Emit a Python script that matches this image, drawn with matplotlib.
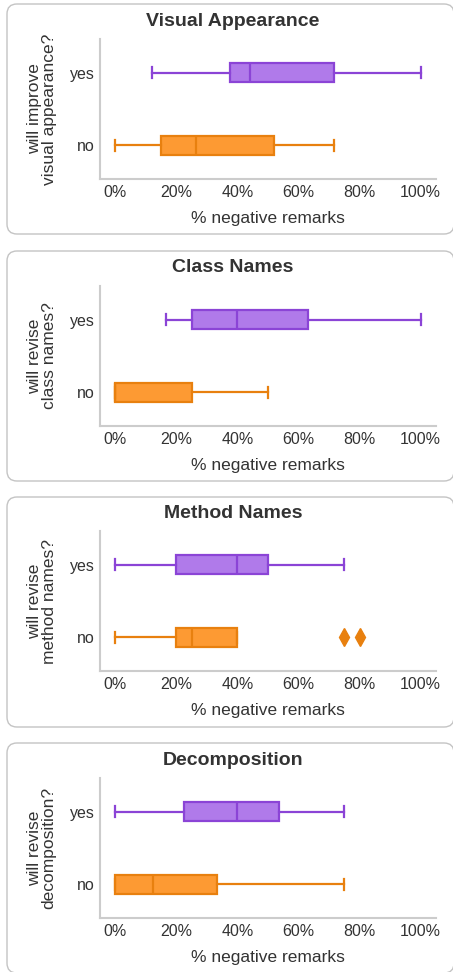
import matplotlib
matplotlib.use("Agg")
from matplotlib import pyplot as plt
from matplotlib.patches import FancyBboxPatch
from matplotlib.ticker import PercentFormatter

plt.rcParams['font.family'] = ['Liberation Sans', 'DejaVu Sans']

# panel titles and y-axis questions
titles = ["Visual Appearance", "Class Names", "Method Names", "Decomposition"]
questions = ["will improve\nvisual appearance?", "will revise\nclass names?",
             "will revise\nmethod names?", "will revise\ndecomposition?"]
groups = ["yes", "no"]

# box stats per panel: (whislo, q1, med, q3, whishi) for yes / no, in %
yes_stats = [(12, 37.5, 44, 71.5, 100),
             (16.5, 25, 40, 63, 100),
             (0, 20, 40, 50, 75),
             (0, 22.5, 40, 53.5, 75)]
no_stats = [(0, 15, 26.5, 52, 71.5),
            (0, 0, 0, 25, 50),
            (0, 20, 25, 40, 40),
            (0, 0, 12.5, 33.3, 75)]
no_fliers = [[], [], [75, 80], []]

face = {"yes": "#b07aea", "no": "#fd9a33"}
edge = {"yes": "#8b44d6", "no": "#e8800f"}

W, H = 453, 972
fig = plt.figure(figsize=(W / 100, H / 100), dpi=100)

panel_top = [4, 251, 497, 743]
axes_top = [39, 286, 531, 778]

for i in range(4):
    # rounded frame round each panel
    fig.patches.append(FancyBboxPatch((7 / W, 1 - (panel_top[i] + 230) / H),
                                      447 / W, 230 / H,
                                      boxstyle="round,pad=0,rounding_size=0.022",
                                      transform=fig.transFigure, fc="none",
                                      ec="#c4c4c4", lw=1.0, mutation_aspect=W / H))

    ax = fig.add_axes([100 / W, 1 - (axes_top[i] + 140) / H, 336 / W, 140 / H])
    for j, g in enumerate(groups):
        s = yes_stats[i] if g == "yes" else no_stats[i]
        fl = [] if g == "yes" else no_fliers[i]
        st = [dict(whislo=s[0], q1=s[1], med=s[2], q3=s[3], whishi=s[4], fliers=fl)]
        ax.bxp(st, positions=[j], vert=False, widths=0.25, capwidths=0.15,
               patch_artist=True, showfliers=True,
               boxprops=dict(facecolor=face[g], edgecolor=edge[g], lw=1.6),
               medianprops=dict(color=edge[g], lw=1.6),
               whiskerprops=dict(color=edge[g], lw=1.6),
               capprops=dict(color=edge[g], lw=1.6),
               flierprops=dict(marker="d", markerfacecolor=edge[g],
                               markeredgecolor=edge[g], markersize=9))

    ax.set_xlim(-5, 105)
    ax.set_ylim(1.46, -0.46)
    ax.set_yticks([0, 1])
    ax.set_yticklabels(groups)
    ax.set_xticks([0, 20, 40, 60, 80, 100])
    ax.xaxis.set_major_formatter(PercentFormatter(decimals=0))
    ax.tick_params(length=0, labelsize=11.5, colors="#333333")
    ax.tick_params(axis="x", pad=4)
    ax.tick_params(axis="y", pad=4)
    for sp in ["top", "right"]:
        ax.spines[sp].set_visible(False)
    for sp in ["left", "bottom"]:
        ax.spines[sp].set_color("#cccccc")
        ax.spines[sp].set_linewidth(1.5)
    ax.set_xlabel("% negative remarks", fontsize=12.5, color="#333333", labelpad=8)

    fig.text(233 / W, 1 - (panel_top[i] + 17) / H, titles[i], ha="center",
             va="center", fontsize=14, fontweight="bold", color="#333333")
    fig.text(42 / W, 1 - (axes_top[i] + 70) / H, questions[i], rotation=90,
             ha="center", va="center", multialignment="center",
             fontsize=12.5, color="#333333", linespacing=0.95)

fig.savefig("out.png", dpi=100)
